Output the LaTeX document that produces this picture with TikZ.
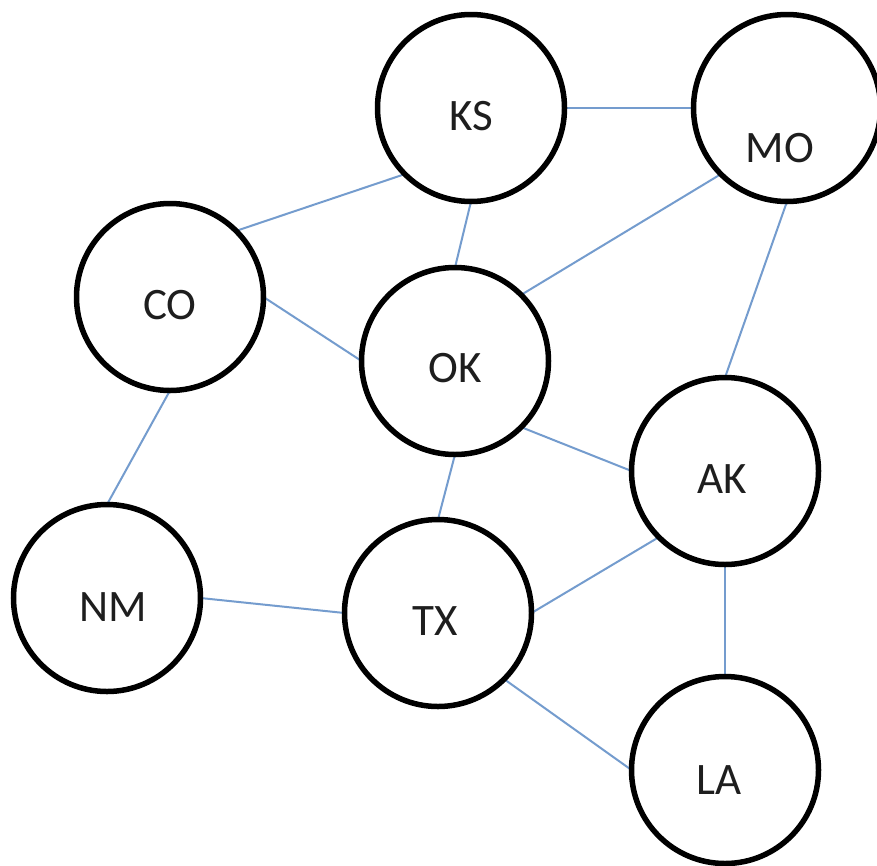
\documentclass[tikz,border=0pt]{standalone}
\usepackage{fontspec}
\setmainfont{Carlito}
\usetikzlibrary{backgrounds}
\definecolor{linkblue}{RGB}{116,156,206}
\definecolor{labelgray}{RGB}{30,30,30}
\begin{document}
\begin{tikzpicture}[x=1pt,y=-1pt,
  state/.style={circle, draw=black, fill=white, line width=5.5pt,
    minimum size=187pt, inner sep=0pt, outer sep=0pt},
  every label/.style={font=\fontsize{45}{54}\selectfont, text=labelgray, inner sep=0pt},
  link/.style={draw=linkblue, line width=2pt}]
  \clip (0,0) rectangle (877,865);

  % states
  \node[state, label={[yshift=-8pt]center:KS}] (KS) at (471,108) {};
  \node[state, label={[xshift=-7pt, yshift=-40pt]center:MO}] (MO) at (787,108) {};
  \node[state, label={[yshift=-8pt]center:CO}] (CO) at (170,297) {};
  \node[state, label={[yshift=-7pt]center:OK}] (OK) at (455,361) {};
  \node[state, label={[xshift=-3pt, yshift=-8pt]center:AK}] (AK) at (725,471) {};
  \node[state, label={[xshift=6pt, yshift=-9pt]center:NM}] (NM) at (107,598) {};
  \node[state, label={[xshift=-3pt, yshift=-8pt]center:TX}] (TX) at (438,613) {};
  \node[state, label={[xshift=-6pt, yshift=-10pt]center:LA}] (LA) at (725,770) {};

  % adjacency links, kept behind the circles
  \begin{scope}[on background layer]
    \fill[white] (0,0) rectangle (877,865);
    \draw[link] (KS.east) -- (MO.west);
    \draw[link] (KS.south west) -- (CO.north east);
    \draw[link] (KS.south) -- (OK.north);
    \draw[link] (MO.south west) -- (OK.north east);
    \draw[link] (MO.south) -- (AK.north);
    \draw[link] (CO.east) -- (OK.west);
    \draw[link] (CO.south) -- (NM.north);
    \draw[link] (OK.south east) -- (AK.west);
    \draw[link] (OK.south) -- (TX.north);
    \draw[link] (AK.south west) -- (TX.east);
    \draw[link] (AK.south) -- (LA.north);
    \draw[link] (NM.east) -- (TX.west);
    \draw[link] (TX.south east) -- (LA.west);
  \end{scope}
\end{tikzpicture}
\end{document}
